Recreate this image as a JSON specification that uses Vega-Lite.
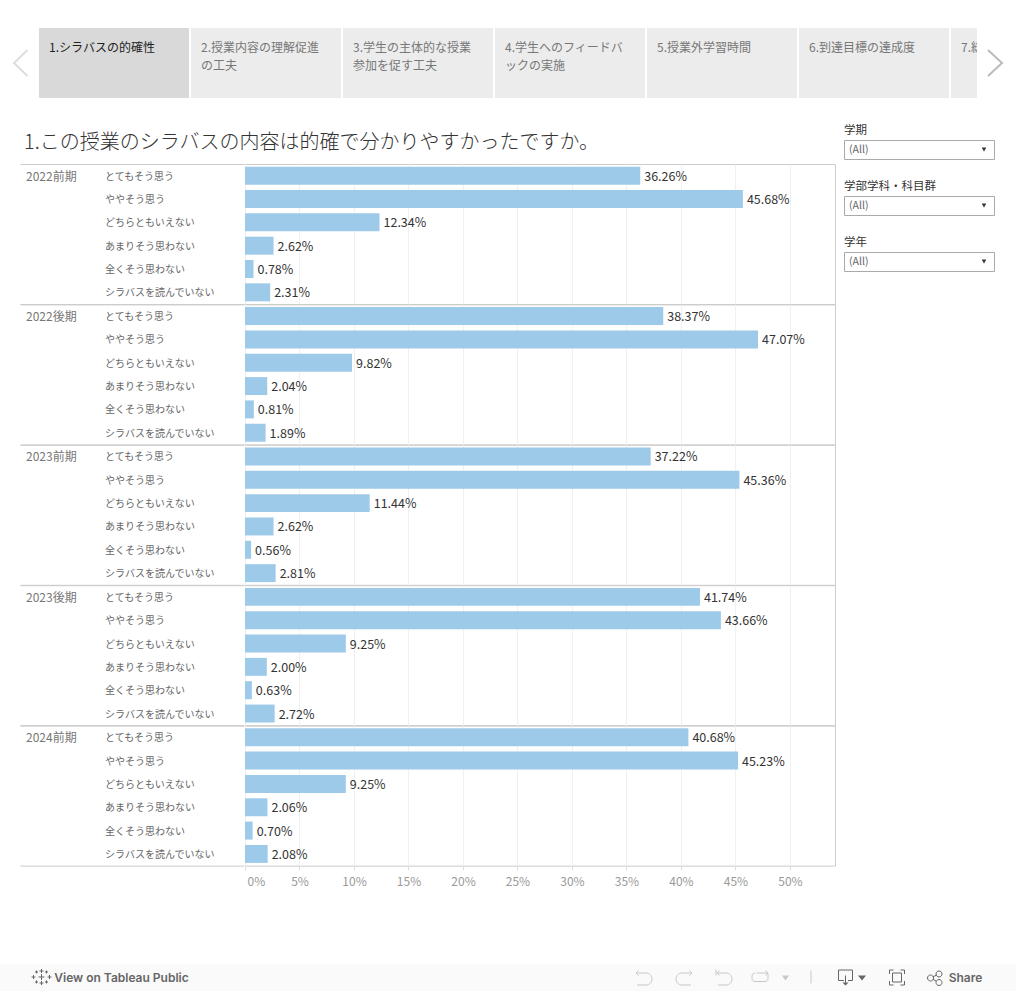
{
"$schema":"https://vega.github.io/schema/vega-lite/v6.json",
"padding":{"top":28,"left":0,"right":0,"bottom":0},
"background":"white",
"config":{"font":"Noto Sans CJK JP","view":{"stroke":null},"concat":{"spacing":0}},
"datasets":{
"survey":[
{"period":"2022前期","response":"とてもそう思う","share":0.3626},{"period":"2022前期","response":"ややそう思う","share":0.4568},{"period":"2022前期","response":"どちらともいえない","share":0.1234},{"period":"2022前期","response":"あまりそう思わない","share":0.0262},{"period":"2022前期","response":"全くそう思わない","share":0.0078},{"period":"2022前期","response":"シラバスを読んでいない","share":0.0231},
{"period":"2022後期","response":"とてもそう思う","share":0.3837},{"period":"2022後期","response":"ややそう思う","share":0.4707},{"period":"2022後期","response":"どちらともいえない","share":0.0982},{"period":"2022後期","response":"あまりそう思わない","share":0.0204},{"period":"2022後期","response":"全くそう思わない","share":0.0081},{"period":"2022後期","response":"シラバスを読んでいない","share":0.0189},
{"period":"2023前期","response":"とてもそう思う","share":0.3722},{"period":"2023前期","response":"ややそう思う","share":0.4536},{"period":"2023前期","response":"どちらともいえない","share":0.1144},{"period":"2023前期","response":"あまりそう思わない","share":0.0262},{"period":"2023前期","response":"全くそう思わない","share":0.0056},{"period":"2023前期","response":"シラバスを読んでいない","share":0.0281},
{"period":"2023後期","response":"とてもそう思う","share":0.4174},{"period":"2023後期","response":"ややそう思う","share":0.4366},{"period":"2023後期","response":"どちらともいえない","share":0.0925},{"period":"2023後期","response":"あまりそう思わない","share":0.02},{"period":"2023後期","response":"全くそう思わない","share":0.0063},{"period":"2023後期","response":"シラバスを読んでいない","share":0.0272},
{"period":"2024前期","response":"とてもそう思う","share":0.4068},{"period":"2024前期","response":"ややそう思う","share":0.4523},{"period":"2024前期","response":"どちらともいえない","share":0.0925},{"period":"2024前期","response":"あまりそう思わない","share":0.0206},{"period":"2024前期","response":"全くそう思わない","share":0.007},{"period":"2024前期","response":"シラバスを読んでいない","share":0.0208}
],
"tabs":[
{"tab":"1","label":["1.シラバスの的確性"],"state":"selected"},
{"tab":"2","label":["2.授業内容の理解促進","の工夫"],"state":"other"},
{"tab":"3","label":["3.学生の主体的な授業","参加を促す工夫"],"state":"other"},
{"tab":"4","label":["4.学生へのフィードバ","ックの実施"],"state":"other"},
{"tab":"5","label":["5.授業外学習時間"],"state":"other"},
{"tab":"6","label":["6.到達目標の達成度"],"state":"other"},
{"tab":"7","label":["7.総合的な満足度"],"state":"other"}
],
"one":[{"k":"a"}]
},
"vconcat":[
{"hconcat":[
 {"width":39,"height":70,"data":{"name":"one"},"mark":{"type":"point","shape":"M8 -13L-5.5 0L8 13","size":4,"filled":false,"stroke":"#dddddd","strokeWidth":2,"opacity":1},"encoding":{}},
 {"width":938,"height":70,"data":{"name":"tabs"},
  "encoding":{"x":{"field":"tab","type":"nominal","axis":null,"scale":{"type":"band","range":[0,1062],"paddingInner":0.01316,"paddingOuter":0}}},
  "layer":[
   {"mark":{"type":"bar","clip":true},"encoding":{"color":{"field":"state","type":"nominal","legend":null,"scale":{"domain":["selected","other"],"range":["#d9d9d9","#ececec"]}}}},
   {"mark":{"type":"text","clip":true,"align":"left","baseline":"top","dx":10,"dy":-20,"fontSize":12,"lineHeight":18},
    "encoding":{"x":{"field":"tab","type":"nominal","bandPosition":0},"text":{"field":"label"},"color":{"field":"state","type":"nominal","legend":null,"scale":{"domain":["selected","other"],"range":["#222222","#777777"]}}}}
  ],
  "resolve":{"scale":{"color":"independent"}}},
 {"width":39,"height":70,"data":{"name":"one"},"mark":{"type":"point","shape":"M-8.5 -13L5.5 0L-8.5 13","size":4,"filled":false,"stroke":"#bbbbbb","strokeWidth":2,"opacity":1},"encoding":{}}
],"spacing":0,"bounds":"flush"},
{"hconcat":[
 {"hconcat":[
  {"width":20,"height":1,"data":{"name":"one"},"mark":{"type":"text","text":""},"encoding":{}},
  {"vconcat":[
   {"width":815,"height":29,"data":{"name":"one"},"mark":{"type":"text","text":""},"encoding":{}},
   {"title":{"text":"1.この授業のシラバスの内容は的確で分かりやすかったですか。","anchor":"start","fontSize":20,"fontWeight":300,"color":"#333333","dx":4,"offset":10.5,"frame":"group"},
    "hconcat":[
    {"data":{"name":"survey"},"bounds":"flush","spacing":0.4,
     "facet":{"row":{"field":"period","type":"nominal","header":null}},
     "resolve":{"axis":{"x":"independent"}},
     "spec":{"width":224,"height":140,
      "layer":[
       {"mark":{"type":"text","align":"left","fontSize":10,"color":"#666666","dy":1},
        "encoding":{"x":{"datum":"回答","type":"nominal","scale":{"type":"point","domain":["学期","回答"],"range":[0,224],"padding":0.9177,"align":0.0414},"axis":{"orient":"bottom","title":null,"labels":false,"ticks":false,"domain":true,"domainColor":"#cccccc","grid":false}},
         "y":{"field":"response","type":"nominal","axis":null,"scale":{"type":"band","domain":["とてもそう思う","ややそう思う","どちらともいえない","あまりそう思わない","全くそう思わない","シラバスを読んでいない"],"paddingInner":0.23,"paddingOuter":0.115}},
         "text":{"field":"response"}}},
       {"transform":[{"filter":"datum.response === 'とてもそう思う'"}],
        "mark":{"type":"text","align":"left","fontSize":12,"color":"#777777","dy":1},
        "encoding":{"x":{"datum":"学期","type":"nominal","scale":{"type":"point","domain":["学期","回答"],"range":[0,224],"padding":0.9177,"align":0.0414},"axis":{"orient":"top","title":null,"labels":false,"ticks":false,"domain":true,"domainColor":"#cccccc","grid":false}},
         "y":{"field":"response","type":"nominal"},
         "text":{"field":"period"}}}
      ],
      "resolve":{"axis":{"x":"independent"}}}
    },
    {"data":{"name":"survey"},"bounds":"flush","spacing":0.4,
     "facet":{"row":{"field":"period","type":"nominal","header":null}},
     "spec":{"width":590,"height":140,"view":{"stroke":"#cccccc"},
      "encoding":{
       "x":{"field":"share","type":"quantitative","scale":{"domain":[0,0.5413],"nice":false},
        "axis":{"title":null,"values":[0,0.05,0.1,0.15,0.2,0.25,0.3,0.35,0.4,0.45,0.5],"format":".0%","labelFlush":true,"labelFlushOffset":-2,"labelColor":"#999999","labelFontSize":12,"labelPadding":6.5,"domain":false,"tickColor":"#dddddd","tickSize":4,"grid":true,"gridColor":"#f0f0f0"}},
       "y":{"field":"response","type":"nominal","axis":null,"scale":{"type":"band","domain":["とてもそう思う","ややそう思う","どちらともいえない","あまりそう思わない","全くそう思わない","シラバスを読んでいない"],"paddingInner":0.23,"paddingOuter":0.115}}
      },
      "layer":[
       {"mark":{"type":"bar","color":"#9ecae9"}},
       {"mark":{"type":"text","align":"left","dx":4,"dy":1,"fontSize":12.5,"color":"#333333"},"encoding":{"text":{"field":"share","type":"quantitative","format":".2%"}}}
      ]}
    }
   ],"spacing":0}
  ],"spacing":0}
 ],"spacing":0},
 {"vconcat":[
  {"width":150,"height":20,"data":{"name":"one"},"mark":{"type":"text","text":""},"encoding":{}},
  {"vconcat":[
  {"width":150,"height":19,"view":{"stroke":"#aaaaaa"},"title":{"text":"学期","anchor":"start","fontSize":11.5,"fontWeight":"normal","color":"#333333","offset":4},
   "data":{"values":[{"filter":"学期","current":"(All)"}]},
   "layer":[
    {"mark":{"type":"text","align":"left","fontSize":10.5,"color":"#666666"},"encoding":{"x":{"datum":"値","type":"nominal","axis":null,"scale":{"type":"point","domain":["値","矢印"],"range":[5,140],"padding":0}},"text":{"field":"current"}}},
    {"mark":{"type":"point","shape":"triangle-down","filled":true,"size":22,"color":"#333333","opacity":1},"encoding":{"x":{"datum":"矢印","type":"nominal"}}}
   ]},
  {"width":150,"height":19,"view":{"stroke":"#aaaaaa"},"title":{"text":"学部学科・科目群","anchor":"start","fontSize":11.5,"fontWeight":"normal","color":"#333333","offset":4},
   "data":{"values":[{"filter":"学部学科・科目群","current":"(All)"}]},
   "layer":[
    {"mark":{"type":"text","align":"left","fontSize":10.5,"color":"#666666"},"encoding":{"x":{"datum":"値","type":"nominal","axis":null,"scale":{"type":"point","domain":["値","矢印"],"range":[5,140],"padding":0}},"text":{"field":"current"}}},
    {"mark":{"type":"point","shape":"triangle-down","filled":true,"size":22,"color":"#333333","opacity":1},"encoding":{"x":{"datum":"矢印","type":"nominal"}}}
   ]},
  {"width":150,"height":19,"view":{"stroke":"#aaaaaa"},"title":{"text":"学年","anchor":"start","fontSize":11.5,"fontWeight":"normal","color":"#333333","offset":4},
   "data":{"values":[{"filter":"学年","current":"(All)"}]},
   "layer":[
    {"mark":{"type":"text","align":"left","fontSize":10.5,"color":"#666666"},"encoding":{"x":{"datum":"値","type":"nominal","axis":null,"scale":{"type":"point","domain":["値","矢印"],"range":[5,140],"padding":0}},"text":{"field":"current"}}},
    {"mark":{"type":"point","shape":"triangle-down","filled":true,"size":22,"color":"#333333","opacity":1},"encoding":{"x":{"datum":"矢印","type":"nominal"}}}
   ]}
  ],"spacing":37,"bounds":"flush"}
 ],"spacing":0}
],"spacing":7},
{"width":1016,"height":76,"data":{"name":"one"},"mark":{"type":"text","text":""},"encoding":{}},
{"hconcat":[
 {"width":52,"height":27,"view":{"fill":"#fafafa"},"data":{"name":"one"},
  "mark":{"type":"point","shape":"M15.5 -3.5L15.5 2.5M12.5 -0.5L18.5 -0.5M15.5 -8.5L15.5 -4.5M13.5 -6.5L17.5 -6.5M15.5 3.5L15.5 7.5M13.5 5.5L17.5 5.5M7.5 -2.5L7.5 1.5M5.5 -0.5L9.5 -0.5M23.5 -2.5L23.5 1.5M21.5 -0.5L25.5 -0.5M10.5 -7L10.5 -4M9 -5.5L12 -5.5M20.5 -7L20.5 -4M19 -5.5L22 -5.5M10.5 3L10.5 6M9 4.5L12 4.5M20.5 3L20.5 6M19 4.5L22 4.5","size":4,"filled":false,"stroke":"#666666","strokeWidth":1,"opacity":1},"encoding":{}},
 {"width":139,"height":27,"view":{"fill":"#fafafa"},"data":{"name":"one"},"mark":{"type":"text","text":"View on Tableau Public","font":"Inter","fontSize":12,"fontWeight":600,"color":"#666666"},"encoding":{}},
 {"width":755,"height":27,"view":{"fill":"#fafafa"},"data":{"name":"one"},
  "layer":[
   {"mark":{"type":"point","shape":"M67.5 -4.5L77.5 -4.5A6 6 0 0 1 77.5 7.5L68.5 7.5M70 -7L67.5 -4.5L70 -2M123.5 -4.5L113.5 -4.5A6 6 0 0 0 113.5 7.5L122.5 7.5M121 -7L123.5 -4.5L121 -2M147.5 -8L147.5 -2M148.5 -4.5L157.5 -4.5A6 6 0 0 1 157.5 7.5L149.5 7.5M151 -7L148.5 -4.5L151 -2M188 -4.5L199.5 -4.5L199.5 1A3 3 0 0 1 196.5 4L186.5 4A3 3 0 0 1 183.5 1L183.5 -1.5A3 3 0 0 1 186.5 -4.5M197 -7L199.5 -4.5L197 -2M242.5 -7L242.5 6","size":4,"filled":false,"stroke":"#c8c8c8","strokeWidth":1,"opacity":1},"encoding":{}},
   {"mark":{"type":"point","shape":"M213.5 -2L220.5 -2L217 3Z","size":4,"filled":true,"color":"#c8c8c8","opacity":1},"encoding":{}},
   {"mark":{"type":"point","shape":"M275.5 3L270 3L270 -7.5L284 -7.5L284 3L279.5 3M277 -2L277 6M321 -3.5L321 -7.5L325 -7.5M332 -7.5L336 -7.5L336 -3.5M336 3.5L336 7.5L332 7.5M325 7.5L321 7.5L321 3.5M324 -4.5L333 -4.5L333 4.5L324 4.5ZM365 0.5A3 3 0 1 1 359 0.5A3 3 0 1 1 365 0.5M373.5 -3.5A3 3 0 1 1 367.5 -3.5A3 3 0 1 1 373.5 -3.5M373.5 5A3 3 0 1 1 367.5 5A3 3 0 1 1 373.5 5M364.5 -0.8L368 -2.3M364.5 1.8L368 3.8","size":4,"filled":false,"stroke":"#666666","strokeWidth":1,"opacity":1},"encoding":{}},
   {"mark":{"type":"point","shape":"M274 5L280 5L277 8ZM289.5 -2L297.5 -2L293.5 3Z","size":4,"filled":true,"color":"#666666","opacity":1},"encoding":{}}
  ]},
 {"width":39,"height":27,"view":{"fill":"#fafafa"},"data":{"name":"one"},"mark":{"type":"text","text":"Share","font":"Inter","fontSize":12,"fontWeight":600,"color":"#666666"},"encoding":{}},
 {"width":31,"height":27,"view":{"fill":"#fafafa"},"data":{"name":"one"},"mark":{"type":"text","text":""},"encoding":{}}
],"spacing":0,"bounds":"flush"}
],
"spacing":0
}
